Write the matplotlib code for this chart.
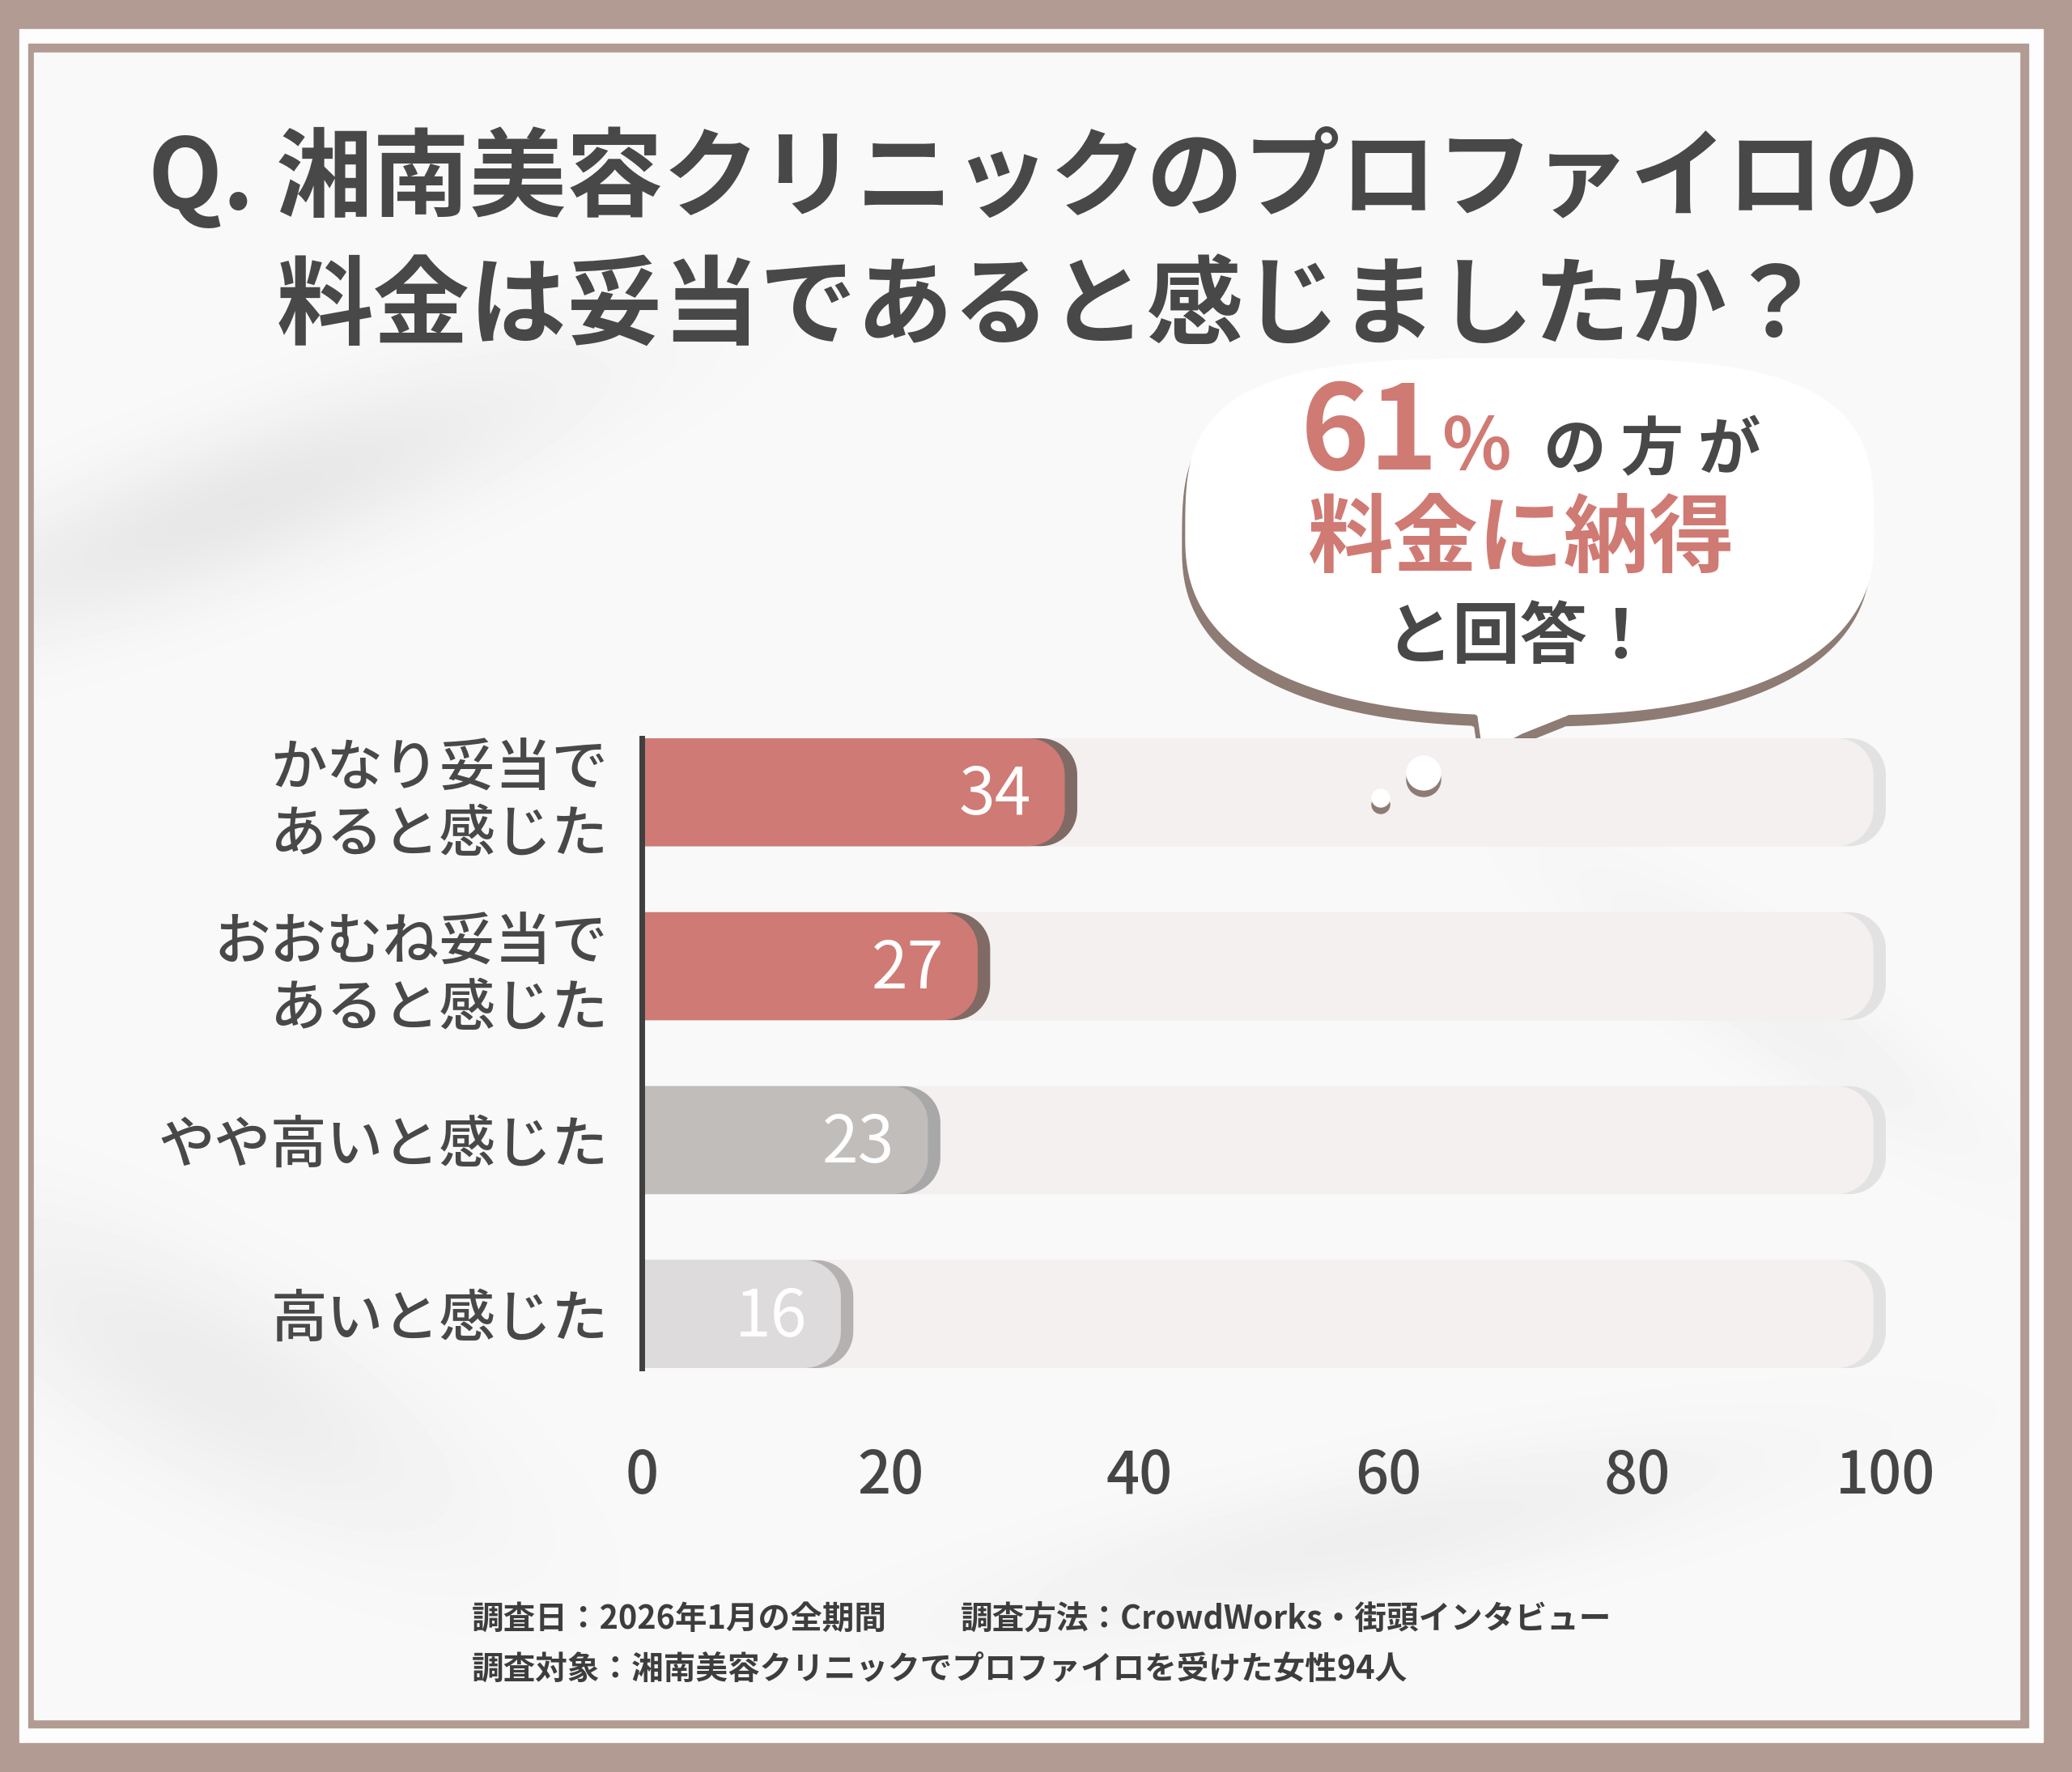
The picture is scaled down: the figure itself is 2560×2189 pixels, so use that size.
import numpy as np
import matplotlib.pyplot as plt
from matplotlib.patches import Rectangle, Polygon, Circle

plt.rcParams['font.family'] = ['Noto Sans CJK JP', 'DejaVu Sans']

# データ
categories = ['かなり妥当で\nあると感じた', 'おおむね妥当で\nあると感じた', 'やや高いと感じた', '高いと感じた']
values = [34, 27, 23, 16]
bar_colors = ['#cf7a74', '#cf7a74', '#c0bdbb', '#dddbdb']
shadow_colors = ['#7f6a65', '#7f6a65', '#a9a8a8', '#b5b1b0']
xticks = [0, 20, 40, 60, 80, 100]

title1 = 'Q. 湘南美容クリニックのプロファイロの'
title2 = '料金は妥当であると感じましたか？'
note1a = '調査日：2026年1月の全期間'
note1b = '調査方法：CrowdWorks・街頭インタビュー'
note2 = '調査対象：湘南美容クリニックでプロファイロを受けた女性94人'

W, H = 2560, 2189
DARK = '#484848'
RED = '#d07a74'
BROWN = '#b29b92'
SHADOW = '#8d7b74'

fig = plt.figure(figsize=(W / 100, H / 100), dpi=100)

# 背景・枠
bg = fig.add_axes([0, 0, 1, 1])
bg.set_xlim(0, W)
bg.set_ylim(H, 0)
bg.axis('off')
bg.add_patch(Rectangle((0, 0), W, H, color=BROWN, zorder=0))
bg.add_patch(Rectangle((24, 36), 2500, 2116, color='#fdfdfd', zorder=0))
bg.add_patch(Rectangle((35, 54), 2471, 2080, color=BROWN, zorder=0))
bg.add_patch(Rectangle((42, 65), 2453, 2059, color='#f9f9f9', zorder=0))

# うっすら大理石っぽい模様
gx, gy = np.meshgrid(np.linspace(42, 2495, 400), np.linspace(65, 2124, 340))
shade = np.zeros_like(gx)
for cx, cy, sx, sy, ang, amp in [(300, 620, 420, 90, -0.35, 0.07),
                                 (250, 1700, 350, 120, 0.5, 0.05),
                                 (1700, 1900, 500, 80, -0.2, 0.04),
                                 (2200, 1250, 300, 70, 0.6, 0.03)]:
    u = (gx - cx) * np.cos(ang) + (gy - cy) * np.sin(ang)
    v = -(gx - cx) * np.sin(ang) + (gy - cy) * np.cos(ang)
    shade += amp * np.exp(-(u / sx) ** 2 - (v / sy) ** 2)
bg.imshow(0.976 - shade, cmap='gray', vmin=0, vmax=1, extent=(42, 2495, 2124, 65),
          zorder=0.5, interpolation='bilinear', aspect='auto')

# タイトル
bg.text(1278, 221, title1, ha='center', va='center', fontsize=86, weight='bold', color=DARK)
bg.text(1298, 382, title2, ha='center', va='center', fontsize=86, weight='bold', color=DARK)

# 吹き出し
def blob(cx, cy, a, b, n_top, n_bot, num=300):
    t = np.linspace(0, 2 * np.pi, num)
    c, s = np.cos(t), np.sin(t)
    n = np.where(s > 0, n_top, n_bot)
    x = cx + a * np.sign(c) * np.abs(c) ** (2 / n)
    y = cy - b * np.sign(s) * np.abs(s) ** (2 / n)
    return np.column_stack([x, y])

body = blob(1890, 663, 425, 220, 3.4, 2.4)
tail = np.array([[1790, 860], [1826, 884], [1830, 912], [1846, 924], [1880, 906],
                 [1935, 884], [1975, 862]])
for dx, dy, col in [(-4, 14, SHADOW), (0, 0, 'white')]:
    bg.add_patch(Polygon(body + [dx, dy], closed=True, color=col, zorder=5))
    bg.add_patch(Polygon(tail + [dx, dy], closed=True, color=col, zorder=5))

agree = values[0] + values[1]
bg.text(1692, 580, str(agree), ha='center', va='baseline', fontsize=104, weight='bold', color=RED, zorder=6)
bg.text(1824, 580, '%', ha='center', va='baseline', fontsize=64, weight='bold', color=RED, zorder=6)
bg.text(2041, 580, 'の 方 が', ha='center', va='baseline', fontsize=56, weight='bold', color=DARK, zorder=6)
bg.text(1880, 668, '料金に納得', ha='center', va='center', fontsize=76, weight='bold', color=RED, zorder=6)
bg.text(1878, 789, 'と回答！', ha='center', va='center', fontsize=60, weight='bold', color=DARK, zorder=6)

# 注記
bg.text(583, 2000, note1a, ha='left', va='center', fontsize=28.5, weight='bold', color='#3d3d3d')
bg.text(1187, 2000, note1b, ha='left', va='center', fontsize=28.5, weight='bold', color='#3d3d3d')
bg.text(583, 2062, note2, ha='left', va='center', fontsize=28.5, weight='bold', color='#3d3d3d')

# グラフ本体
x0, x100 = 793, 2330
top, bottom = 912, 1690
ax = fig.add_axes([x0 / W, 1 - bottom / H, (x100 - x0) / W, (bottom - top) / H])
ax.set_xlim(0, 100)
ax.set_ylim(len(values) - 1 + 0.31, -0.31)
ax.patch.set_alpha(0)
bar_h = 0.62

# 角丸（右側だけ）の半径を px から data 単位へ
px_x = (x100 - x0) / 100
px_y = (bottom - top) / (len(values) - 1 + 0.62)
rx, ry = 45 / px_x, 45 / px_y


def right_round(x_end, yc, h, z, color):
    y_top, y_bot = yc - h / 2, yc + h / 2
    a1 = np.linspace(-np.pi / 2, 0, 20)
    a2 = np.linspace(0, np.pi / 2, 20)
    pts = [(0, y_top)]
    pts += [(x_end - rx + rx * np.cos(a), y_top + ry + ry * np.sin(a)) for a in a1]
    pts += [(x_end - rx + rx * np.cos(a), y_bot - ry + ry * np.sin(a)) for a in a2]
    pts += [(0, y_bot)]
    ax.add_patch(Polygon(pts, closed=True, color=color, zorder=z, lw=0))


for i, v in enumerate(values):
    right_round(100, i, bar_h, 1, '#e3e2e2')
    right_round(99, i, bar_h, 1.1, '#f3f0ef')
    right_round(v + 1.0, i, bar_h, 2, shadow_colors[i])
    right_round(v, i, bar_h, 2.1, bar_colors[i])
    ax.text(v - 2.7, i + 0.02, str(v), ha='right', va='center', fontsize=58, color='white', zorder=3)

ax.set_yticks(range(len(categories)))
ax.set_yticklabels(categories, fontsize=50, color=DARK, linespacing=1.2, weight='medium')
ax.set_xticks(xticks)
ax.set_xticklabels([str(t) for t in xticks], fontsize=52, color='#454545', weight='medium')
ax.tick_params(axis='y', length=0, pad=30)
ax.tick_params(axis='x', length=0, pad=70)
for s in ['top', 'right', 'bottom']:
    ax.spines[s].set_visible(False)
ax.spines['left'].set_color('#3f3f3f')
ax.spines['left'].set_linewidth(5)
ax.spines['left'].set_zorder(4)

# 吹き出しの小さな丸（グラフの上に重ねる）
over = fig.add_axes([0, 0, 1, 1])
over.set_xlim(0, W)
over.set_ylim(H, 0)
over.axis('off')
for (cx, cy, r) in [(1759, 955, 21), (1706, 986, 11)]:
    over.add_patch(Circle((cx, cy + 8), r, color=SHADOW))
    over.add_patch(Circle((cx, cy), r, color='white'))

fig.savefig('out.png', dpi=100)
